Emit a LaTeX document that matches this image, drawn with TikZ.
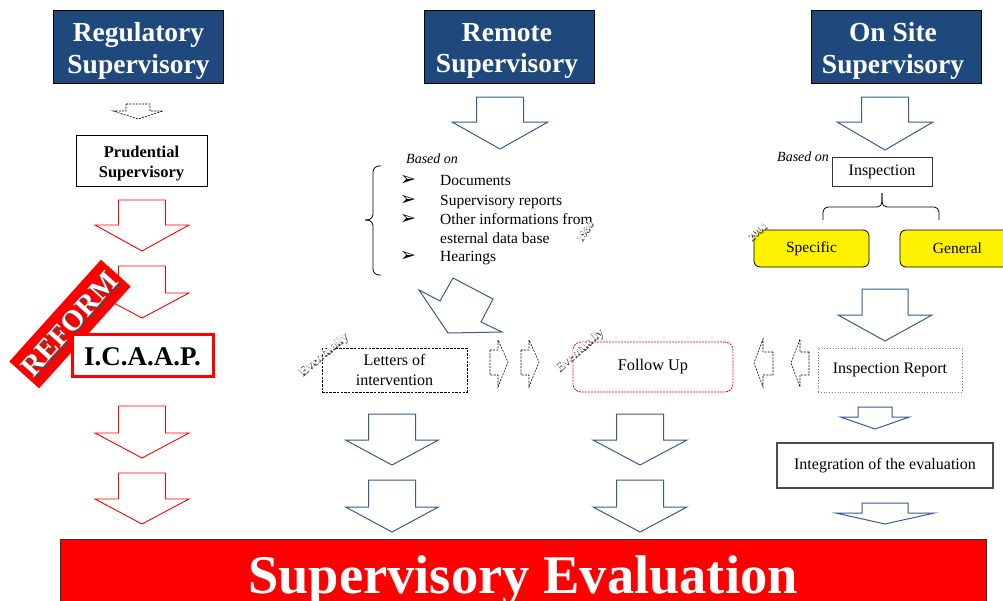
\documentclass[tikz,border=0pt]{standalone}
\usepackage{fontspec}
\setmainfont{Liberation Serif}
\newfontfamily\dejavu{DejaVu Sans}
\definecolor{hdrblue}{RGB}{31,73,125}
\definecolor{arrblue}{RGB}{56,93,138}
\newcommand{\fs}[2]{\fontsize{#1}{#2}\selectfont}
% block arrow pointing down: [style]{cx}{top}{headstart}{tip}{half shaft}{half head}
\newcommand{\darr}[7][]{\draw[#1] (#2-#6,#3) -- (#2+#6,#3) -- (#2+#6,#4) -- (#2+#7,#4) -- (#2,#5) -- (#2-#7,#4) -- (#2-#6,#4) -- cycle;}
% wordart-like rotated text: {name}{x}{y}{angle}{size}{text}
\newcommand{\wart}[6]{%
  \node[rotate=#4, text=gray!55!black, font=\fs{#5}{#5}\bfseries, inner sep=0] (#1s) at (#2+1.4,#3+1.4) {#6};
  \node[rotate=#4, text=white, font=\fs{#5}{#5}\bfseries, inner sep=0] (#1) at (#2,#3) {#6};}
\tikzset{
  hdr/.style={draw=black, line width=0.7pt, fill=hdrblue, inner sep=0, minimum width=170, minimum height=73},
  hdrtext/.style={text=white, font=\fs{27.5}{31.5}\bfseries, align=center, inner sep=0},
  plainbox/.style={draw=black, line width=0.8pt, fill=white, align=center, inner sep=0, font=\fs{16}{20}},
  redarr/.style={draw=red, line width=0.9pt, fill=white},
  bluearr/.style={draw=arrblue, line width=1pt, fill=white},
  smalldash/.style={draw=black, line width=0.6pt, dash pattern=on 2pt off 1.2pt},
  listitem/.style={anchor=base west, inner sep=0, font=\fs{15.5}{18}},
  bullet/.style={anchor=base, inner sep=0, font=\dejavu\fs{19}{20}},
  basedon/.style={anchor=base west, inner sep=0, font=\fs{14}{16}\itshape},
  yelbox/.style={draw=black, line width=0.8pt, fill=yellow, rounded corners=6pt, inner sep=0, minimum width=115, minimum height=37, font=\fs{15.5}{18}}
}
\begin{document}
\begin{tikzpicture}[x=1pt, y=-1pt]
\clip (0,0) rectangle (1003,600);
\fill[white] (0,0) rectangle (1003,600);

% ---------- headers ----------
\node[hdr] (reg) at (138.5,46.5) {};
\node[hdr] (rem) at (509.5,46.5) {};
\node[hdr] (ons) at (896,46.5) {};
\node[hdrtext] (regt) at (138.5,51) {Regulatory\\Supervisory};
\node[hdrtext] (remt) at (507,51) {Remote\\Supervisory};
\node[hdrtext] (onst) at (893,51) {On Site\\Supervisory};

% ---------- left column ----------
\darr[smalldash]{138}{104}{111}{119}{12}{25}
\node[plainbox, minimum width=131, minimum height=51] (pru) at (141.5,160.5) {};
\node[align=center, inner sep=0, font=\fs{16.5}{19.5}\bfseries] (prut) at (141.5,163.5) {Prudential\\Supervisory};
\darr[redarr]{142}{200}{225}{251}{23.5}{47}
\darr[redarr]{142}{266}{293}{318}{23.5}{47}
\node[fill=red, minimum width=137, minimum height=40, rotate=48, inner sep=0] (reformbox) at (70,324) {};
\node[rotate=48, text=gray!60!black, font=\fs{29}{29}\bfseries, inner sep=0] (reforms) at (71.8,325.8) {REFORM};
\node[rotate=48, text=white, font=\fs{29}{29}\bfseries, inner sep=0] (reform) at (70,324) {REFORM};
\node[draw=red, line width=3pt, fill=white, minimum width=141, minimum height=42, inner sep=0, font=\fs{27}{30}\bfseries] (icaap) at (142.5,355) {};
\node[inner sep=0, font=\fs{27}{30}\bfseries] (icaapt) at (142.5,357) {I.C.A.A.P.};
\darr[redarr]{142}{406}{433}{458}{23.5}{47}
\darr[redarr]{142}{473}{499}{524}{23.5}{47}

% ---------- middle column ----------
\darr[bluearr]{500}{97}{122}{149}{23.5}{48}
\node[basedon] (based1) at (406,163) {Based on};
\draw[line width=0.8pt, rounded corners=6pt] (381,166) -- (373,166) -- (373,220) -- (365,220);
\draw[line width=0.8pt, rounded corners=6pt] (381,275) -- (373,275) -- (373,220) -- (365,220);
\node[bullet] (b1) at (408,185) {➢};
\node[bullet] (b2) at (408,205) {➢};
\node[bullet] (b3) at (408,224.5) {➢};
\node[bullet] (b4) at (408,261.5) {➢};
\node[listitem] (l1) at (440,185) {Documents};
\node[listitem] (l2) at (440,205) {Supervisory reports};
\node[listitem] (l3) at (440,224.5) {Other informations from};
\node[listitem] (l3b) at (440,243) {esternal data base};
\node[listitem] (l4) at (440,261.5) {Hearings};
\wart{y1980}{584}{231}{55}{11}{1980}

\draw[arrblue, line width=1pt, fill=white] (419,290) -- (440,301) -- (453,278) -- (493,299) -- (481,322) -- (502,332) -- (448,333) -- cycle;

\node[plainbox, dash pattern=on 2.5pt off 1.2pt, minimum width=145, minimum height=44] (letters) at (394.5,370) {Letters of\\intervention};
\wart{ev1}{323}{354}{40}{13}{Eventually}

\draw[smalldash] (490,350) -- (498,350) -- (498,340) -- (508,362) -- (498,387) -- (498,375) -- (490,375) -- cycle;
\draw[smalldash] (521,350) -- (529,350) -- (529,340) -- (539,362) -- (529,387) -- (529,375) -- (521,375) -- cycle;

\node[plainbox, draw=red, line width=0.8pt, dash pattern=on 2pt off 1pt, rounded corners=8pt, minimum width=160, minimum height=50, font=\fs{16.3}{20}] (follow) at (653,367) {Follow Up};
\wart{ev2}{579}{350}{42}{13}{Eventually}

\darr[bluearr]{392}{414}{440}{465}{23.5}{46.5}
\darr[bluearr]{392}{480}{507}{532}{23.5}{46.5}
\darr[bluearr]{640}{414}{440}{465}{23.5}{47}
\darr[bluearr]{640}{480}{507}{532}{23.5}{47}

% ---------- right column ----------
\darr[bluearr]{885}{97}{122}{150}{23.5}{48}
\node[plainbox, draw=black!80, minimum width=100, minimum height=29] (insp) at (882,171.5) {Inspection};
\node[basedon] (based2) at (777,161) {Based on};
\draw[line width=0.8pt, rounded corners=5pt] (823,220) -- (823,207) -- (882,207) -- (882,193);
\draw[line width=0.8pt, rounded corners=5pt] (939,220) -- (939,207) -- (882,207) -- (882,193);
\node[yelbox] (spec) at (811.5,248.5) {Specific};
\node[yelbox] (gen) at (957.5,248.5) {General};
\wart{y2001}{757}{231}{42}{11}{2001}

\darr[bluearr]{885}{289}{315}{341}{23}{47}
\node[plainbox, draw=gray, dotted, line width=0.9pt, minimum width=144, minimum height=44] (insrep) at (890,370) {Inspection Report};

\draw[smalldash] (773,352) -- (763,352) -- (763,339) -- (754,363) -- (763,387) -- (763,375) -- (773,375) -- cycle;
\draw[smalldash] (809,352) -- (800,352) -- (800,339) -- (791,363) -- (800,387) -- (800,375) -- (809,375) -- cycle;

\darr[bluearr]{875}{407}{417}{429}{17}{34.5}
\node[plainbox, draw=black!70, line width=1.2pt, minimum width=216, minimum height=45] (integ) at (885,465.5) {Integration of the evaluation};
\darr[bluearr]{885}{503}{513}{524}{23}{49.5}

% ---------- banner ----------
\node[draw=black!80, line width=0.8pt, fill=red, minimum width=926, minimum height=80, inner sep=0] (banner) at (523,579) {};
\node[anchor=base, text=white, font=\fs{54.5}{60}\bfseries, inner sep=0] (evaltext) at (523,593) {Supervisory Evaluation};
\end{tikzpicture}
\end{document}
